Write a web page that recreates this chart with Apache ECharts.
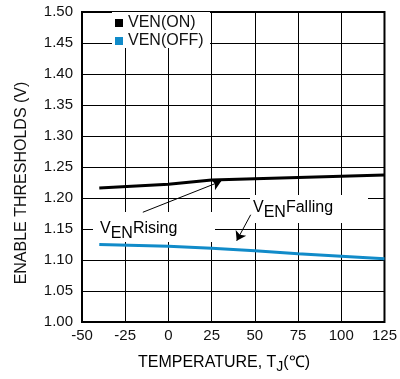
<!DOCTYPE html>
<html>
<head>
<meta charset="utf-8">
<script src="https://cdn.jsdelivr.net/npm/echarts@6/dist/echarts.min.js"></script>
<style>
  html, body { margin: 0; padding: 0; background: #fff; }
  #chart { width: 400px; height: 379px; }
</style>
</head>
<body>
<div id="chart"></div>
<script>
// temperatures (deg C) and threshold readings (V)
var temps = [-40, 0, 25, 50, 75, 100, 125];
var venOn = [1.216, 1.222, 1.229, 1.231, 1.233, 1.235, 1.237];
var venOff = [1.125, 1.122, 1.119, 1.115, 1.110, 1.106, 1.102];
var xTicks = [-50, -25, 0, 25, 50, 75, 100, 125];

var FONT = 'Liberation Sans, Arial, sans-serif';

function pairs(xs, ys) {
    var out = [];
    for (var i = 0; i < xs.length; i++) out.push([xs[i], ys[i]]);
    return out;
}

var chart = echarts.init(document.getElementById('chart'));

var norm = { fontSize: 16, lineHeight: 16, verticalAlign: 'top', fontFamily: FONT, color: '#111' };
var sub = { fontSize: 16, lineHeight: 16, verticalAlign: 'top', fontFamily: FONT, color: '#111', padding: [5, 0, 0, 0] };

var option = {
    animation: false,
    backgroundColor: '#fff',
    grid: {
        left: 82, right: 15, top: 12, bottom: 57,
        show: true, borderColor: '#000', borderWidth: 2
    },
    legend: {
        data: ['VEN(ON)', 'VEN(OFF)'],
        orient: 'vertical',
        left: 112, top: 13,
        padding: [2, 3, 2, 3],
        itemWidth: 8, itemHeight: 8,
        itemGap: 2,
        icon: 'rect',
        textStyle: { fontSize: 16, lineHeight: 15, fontFamily: FONT, color: '#111' }
    },
    xAxis: {
        type: 'value',
        min: xTicks[0], max: xTicks[xTicks.length - 1], interval: 25,
        axisLine: { show: false },
        axisTick: { show: false },
        axisLabel: { fontSize: 15, fontFamily: FONT, color: '#111', margin: 6 },
        splitLine: { show: true, lineStyle: { color: '#000', width: 1 } }
    },
    yAxis: {
        type: 'value',
        min: 1.0, max: 1.5, interval: 0.05,
        axisLine: { show: false },
        axisTick: { show: false },
        axisLabel: {
            fontSize: 15, fontFamily: FONT, color: '#111', margin: 9,
            formatter: function (v) { return v.toFixed(2); }
        },
        splitLine: { show: true, lineStyle: { color: '#000', width: 1 } }
    },
    series: [
        {
            name: 'VEN(ON)',
            type: 'line',
            data: pairs(temps, venOn),
            symbol: 'none',
            itemStyle: { color: '#000' },
            lineStyle: { color: '#000', width: 3 },
            z: 3,
            markLine: {
                silent: true,
                z: 6,
                symbol: ['none', 'arrow'],
                symbolSize: 9,
                label: { show: false },
                lineStyle: { color: '#000', width: 1, type: 'solid' },
                data: [
                    [{ coord: [-14.8, 1.177] }, { coord: [30.5, 1.227] }],
                    [{ coord: [47.6, 1.173] }, { coord: [39.5, 1.131] }]
                ]
            }
        },
        {
            name: 'VEN(OFF)',
            type: 'line',
            data: pairs(temps, venOff),
            symbol: 'none',
            itemStyle: { color: '#118bc9' },
            lineStyle: { color: '#118bc9', width: 3 },
            z: 3
        }
    ],
    graphic: [
        // white patches behind legend and annotations
        { type: 'rect', z: 1, shape: { x: 112, y: 12, width: 98, height: 36 }, style: { fill: '#fff' } },
        { type: 'rect', z: 1, shape: { x: 93, y: 212, width: 122, height: 30 }, style: { fill: '#fff' } },
        { type: 'rect', z: 1, shape: { x: 250, y: 195, width: 118, height: 28 }, style: { fill: '#fff' } },
        {
            type: 'text', z: 5, x: 100, y: 221,
            style: {
                text: '{n|V}{s|EN}{n|Rising}',
                rich: { n: norm, s: sub }
            }
        },
        {
            type: 'text', z: 5, x: 253, y: 200,
            style: {
                text: '{n|V}{s|EN}{n|Falling}',
                rich: { n: norm, s: sub }
            }
        },
        {
            type: 'text', z: 5, x: 22, y: 183, rotation: Math.PI / 2,
            style: {
                text: 'ENABLE THRESHOLDS (V)',
                font: '16px ' + FONT, fill: '#111',
                align: 'center', verticalAlign: 'middle'
            }
        },
        {
            type: 'text', z: 5, x: 224, y: 355,
            style: {
                text: '{n|TEMPERATURE, T}{j|J}{n|(℃)}',
                align: 'center',
                rich: {
                    n: norm,
                    j: { fontSize: 14, lineHeight: 14, verticalAlign: 'top', fontFamily: FONT, color: '#111', padding: [5, 0, 0, 0] }
                }
            }
        }
    ]
};

chart.setOption(option);
</script>
</body>
</html>
